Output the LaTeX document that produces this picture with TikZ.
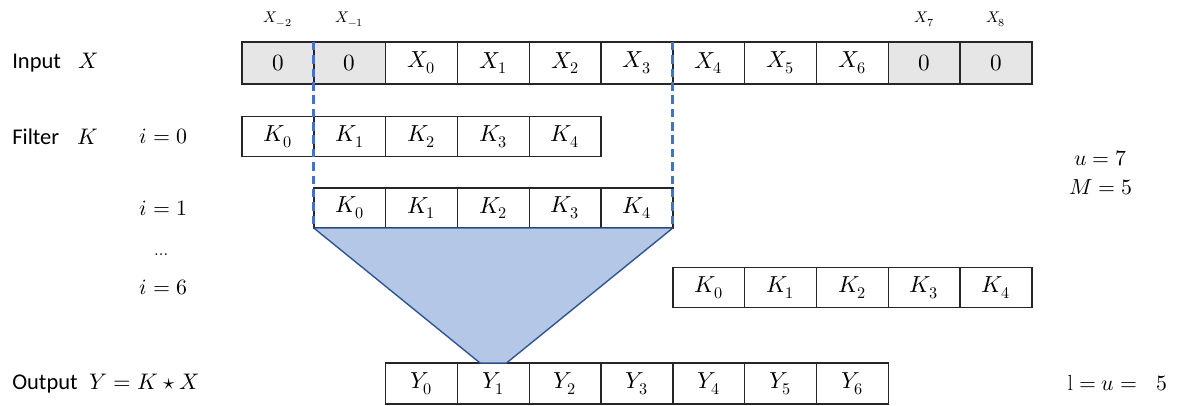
\documentclass[tikz,border=0pt]{standalone}
\usepackage{amsmath}
\usepackage{fontspec}
\usepackage{unicode-math}
\setmathfont{Latin Modern Math}
\setsansfont{Carlito}
\usetikzlibrary{positioning, calc}

\definecolor{padgray}{HTML}{E7E6E6}
\definecolor{winblue}{HTML}{4472C4}
\definecolor{fanfill}{HTML}{B4C7E7}
\definecolor{fanedge}{HTML}{2F5597}

\begin{document}
\begin{tikzpicture}[
  cell/.style={draw=black!85, minimum width=1.795cm, minimum height=1.0cm, outer sep=0pt,
               inner sep=0pt, line width=1pt, font=\fontsize{16.5}{19}\selectfont},
  pad/.style={cell, fill=padgray},
  idx/.style={font=\fontsize{11}{13}\selectfont},
  rowlbl/.style={anchor=west, inner sep=0pt, font=\sffamily\fontsize{16}{19}\selectfont},
  steplbl/.style={inner sep=0pt, font=\fontsize{15.5}{18}\selectfont},
  win/.style={line width=2pt, color=winblue, dash pattern=on 6pt off 3.5pt},
  fan/.style={fill=fanfill, draw=fanedge, line width=1pt, line join=round},
]

\useasboundingbox (0,0) rectangle (29.6,-10.125);

% === Input row with zero padding ===
\foreach \lab/\sty [count=\i from 0] in {0/pad, 0/pad, X_0/cell, X_1/cell, X_2/cell, X_3/cell,
                                         X_4/cell, X_5/cell, X_6/cell, 0/pad, 0/pad}{
  \node[\sty, minimum height=1.05cm] (in\i) at ({6.05+1.795*(\i+0.5)},-1.575) {$\lab$};
}

% indices of the padded entries
\node[idx, above=0.27cm of in0] (ixa) {$X_{-2}$};
\node[idx, above=0.27cm of in1] (ixb) {$X_{-1}$};
\node[idx, above=0.27cm of in9] (ixc) {$X_{7}$};
\node[idx, above=0.27cm of in10] (ixd) {$X_{8}$};

% === Filter positions ===
\foreach \i in {0,...,4}{
  \node[cell] (ka\i) at ({6.05+1.795*(\i+0.5)},-3.4125) {$K_{\i}$};
  \node[cell] (kb\i) at ({6.05+1.795*(\i+1.5)},-5.2) {$K_{\i}$};
  \node[cell] (kc\i) at ({6.05+1.795*(\i+6.5)},-7.1875) {$K_{\i}$};
}

% === Output row ===
\foreach \i in {0,...,6}{
  \node[cell, minimum height=1.025cm] (out\i) at ({6.05+1.795*(\i+2.5)},-9.5875) {$Y_{\i}$};
}

% === Sliding window and its sum into Y_1 ===
\filldraw[fan] (kb0.south west) -- (kb4.south east)
  -- ($(out1.north)+(0.33,0)$) -- ($(out1.north)+(-0.33,0)$) -- cycle;
\draw[win] (in1.north west) -- (kb0.south west);
\draw[win] (in5.north east) -- (kb4.south east);

% === Row labels ===
\node[rowlbl] (lin) at (0.3,-1.575) {Input\hspace{0.45cm}$X$};
\node[rowlbl] (lfil) at (0.3,-3.4125) {Filter\hspace{0.45cm}$K$};
\node[rowlbl] (lout) at (0.3,-9.5875) {Output\hspace{0.3cm}$Y = K \star X$};

\node[steplbl] (s0) at (4.09,-3.41) {$i = 0$};
\node[steplbl] (s1) at (4.09,-5.2) {$i = 1$};
\node[steplbl, font=\fontsize{12}{14}\selectfont] (sdots) at (4.07,-6.36) {$\dots$};
\node[steplbl] (s6) at (4.09,-7.19) {$i = 6$};

% === Parameters ===
\node[steplbl] (uval) at (27.52,-3.95) {$u = 7$};
\node[steplbl] (mval) at (27.52,-4.675) {$M = 5$};
\node[steplbl, anchor=west] (lval) at (26.68,-9.575) {$\mathrm{l} = u = \ \ 5$};

\end{tikzpicture}
\end{document}
